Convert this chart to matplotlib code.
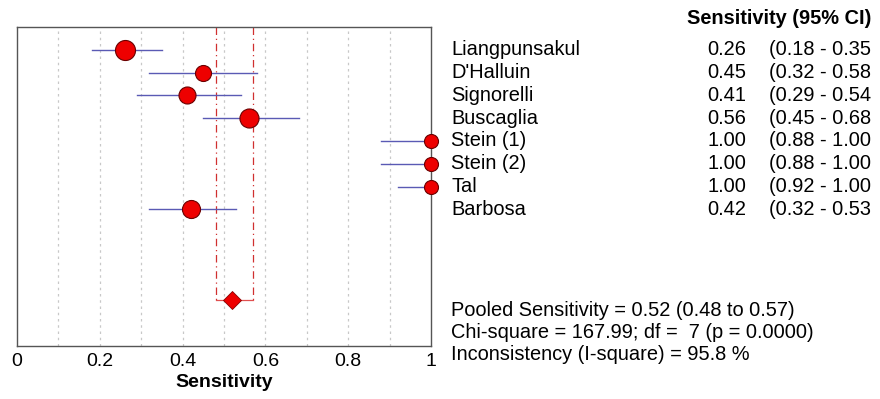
import matplotlib
matplotlib.use("Agg")
import matplotlib.pyplot as plt
from matplotlib.transforms import blended_transform_factory

plt.rcParams['font.family'] = ['Liberation Sans', 'DejaVu Sans']

# data
studies = ["Liangpunsakul", "D'Halluin", "Signorelli", "Buscaglia",
           "Stein (1)", "Stein (2)", "Tal", "Barbosa"]
sens = [0.26, 0.45, 0.41, 0.56, 1.00, 1.00, 1.00, 0.42]
ci_low = [0.18, 0.32, 0.29, 0.45, 0.88, 0.88, 0.92, 0.32]
ci_high = [0.35, 0.58, 0.54, 0.68, 1.00, 1.00, 1.00, 0.53]
weights = [18.0, 11.5, 13.0, 16.3, 8.8, 8.8, 8.8, 14.6]  # relative weight (%)

pooled = 0.52
pooled_low = 0.48
pooled_high = 0.57
stats_lines = ["Pooled Sensitivity = 0.52 (0.48 to 0.57)",
               "Chi-square = 167.99; df =  7 (p = 0.0000)",
               "Inconsistency (I-square) = 95.8 %"]

W, H = 880, 399
fig = plt.figure(figsize=(W / 100, H / 100), dpi=100)
ax = fig.add_axes([17 / W, 53 / H, 414 / W, 319 / H])

rows = list(range(1, len(studies) + 1))
pooled_row = 12

# grid
for g in [0.1, 0.2, 0.3, 0.4, 0.5, 0.6, 0.7, 0.8, 0.9]:
    ax.axvline(g, color='#c8c8c8', lw=0.9, ls=(0, (2, 3)), zorder=0)

# pooled CI lines
ax.plot([pooled_low, pooled_low], [0, pooled_row], color='#d03030', lw=0.9, ls=(0, (6, 3, 1, 3)), zorder=1)
ax.plot([pooled_high, pooled_high], [0, pooled_row], color='#d03030', lw=0.9, ls=(0, (6, 3, 1, 3)), zorder=1)
ax.plot([pooled_low, pooled_high], [pooled_row, pooled_row], color='#e05050', lw=0.9, zorder=1)

# study CIs and points
for y, s, lo, hi, w in zip(rows, sens, ci_low, ci_high, weights):
    ax.plot([lo, hi], [y, y], color='#5a5ab4', lw=1.0, zorder=2, clip_on=False)
    ax.plot(s, y, 'o', ms=3.4 * w ** 0.5, mfc='#ee0000', mec='#6a0000', mew=0.8,
            zorder=3, clip_on=False)

ax.plot(pooled, pooled_row, 'D', ms=9.5, mfc='#ee0000', mec='#8a0000', mew=0.6, zorder=3)

ax.set_xlim(0, 1)
ax.set_ylim(14, 0)
ax.set_yticks([])
ax.set_xticks([0, 0.2, 0.4, 0.6, 0.8, 1])
ax.set_xticklabels(["0", "0.2", "0.4", "0.6", "0.8", "1"])
ax.tick_params(axis='x', length=0, labelsize=14, pad=5)
ax.set_xlabel("Sensitivity", fontsize=14, fontweight='bold', labelpad=3)
for sp in ax.spines.values():
    sp.set_color('#555555')
    sp.set_linewidth(1.0)

# right-hand table
fs = 14.4
tr = blended_transform_factory(fig.transFigure, ax.transData)
fig.text(871 / W, 1 - 19 / H, "Sensitivity (95% CI)", fontsize=fs, fontweight='bold',
         ha='right', va='center')
for y, name, s, lo, hi in zip(rows, studies, sens, ci_low, ci_high):
    fig.text(451 / W, y, name, transform=tr, fontsize=fs, va='center', ha='left')
    fig.text(746 / W, y, f"{s:.2f}", transform=tr, fontsize=fs, va='center', ha='right')
    fig.text(769 / W, y, f"({lo:.2f} - {hi:.2f}", transform=tr, fontsize=fs, va='center', ha='left')

for i, line in enumerate(stats_lines):
    fig.text(451 / W, 1 - (311 + 22 * i) / H, line, fontsize=fs, va='center', ha='left')

fig.savefig("out.png", dpi=100)
